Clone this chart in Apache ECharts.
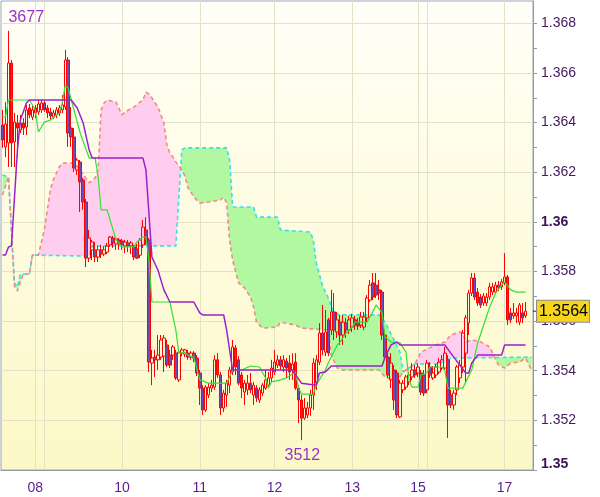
<!DOCTYPE html>
<html><head><meta charset="utf-8">
<script src="https://cdn.jsdelivr.net/npm/echarts@6/dist/echarts.min.js"></script>
<style>html,body{margin:0;padding:0;background:#fff}#c{width:600px;height:497px}</style>
</head><body><div id="c"></div>
<script>
// candles: [open, close, low, high]
const candles = [
[1.36390,1.36330,1.36298,1.36451],[1.36302,1.36394,1.36261,1.36483],[1.36318,1.36640,1.36221,1.36770],[1.36640,1.36318,1.36221,1.36652],
[1.36322,1.36402,1.36221,1.36439],[1.36398,1.36378,1.36261,1.36431],[1.36370,1.36398,1.36358,1.36431],[1.36398,1.36378,1.36350,1.36418],
[1.36382,1.36451,1.36350,1.36471],[1.36459,1.36431,1.36418,1.36475],[1.36422,1.36451,1.36410,1.36467],[1.36459,1.36439,1.36418,1.36471],
[1.36443,1.36475,1.36431,1.36491],[1.36451,1.36479,1.36439,1.36491],[1.36479,1.36451,1.36443,1.36487],[1.36459,1.36439,1.36418,1.36471],
[1.36443,1.36427,1.36410,1.36459],[1.36422,1.36439,1.36414,1.36451],[1.36431,1.36451,1.36418,1.36463],[1.36439,1.36459,1.36427,1.36471],
[1.36451,1.36471,1.36439,1.36511],[1.36463,1.36652,1.36451,1.36693],[1.36652,1.36358,1.36302,1.36664],[1.36378,1.36342,1.36302,1.36463],
[1.36342,1.36217,1.36201,1.36378],[1.36209,1.36249,1.36189,1.36257],[1.36241,1.36161,1.36040,1.36249],[1.36169,1.36080,1.36048,1.36177],
[1.36080,1.35854,1.35818,1.36092],[1.35854,1.35935,1.35838,1.35967],[1.35887,1.35919,1.35846,1.35927],[1.35887,1.35858,1.35838,1.35919],
[1.35858,1.35887,1.35838,1.35903],[1.35887,1.35870,1.35854,1.35907],[1.35870,1.35887,1.35862,1.35903],[1.35878,1.35903,1.35870,1.35915],
[1.35907,1.35939,1.35899,1.35943],[1.35935,1.35915,1.35895,1.35943],[1.35911,1.35931,1.35887,1.35939],[1.35927,1.35911,1.35887,1.35935],
[1.35923,1.35907,1.35887,1.35931],[1.35903,1.35919,1.35874,1.35927],[1.35915,1.35903,1.35878,1.35927],[1.35903,1.35915,1.35870,1.35923],
[1.35899,1.35858,1.35846,1.35907],[1.35891,1.35854,1.35850,1.35911],[1.35866,1.35927,1.35854,1.35935],[1.35907,1.35979,1.35895,1.36008],
[1.35967,1.35927,1.35907,1.36019],[1.35927,1.35435,1.35395,1.35935],[1.35431,1.35451,1.35342,1.35484],[1.35455,1.35444,1.35375,1.35484],
[1.35444,1.35463,1.35403,1.35544],[1.35455,1.35524,1.35444,1.35544],[1.35459,1.35532,1.35395,1.35544],[1.35504,1.35423,1.35415,1.35524],
[1.35463,1.35423,1.35411,1.35484],[1.35463,1.35496,1.35444,1.35504],[1.35471,1.35371,1.35363,1.35484],[1.35363,1.35475,1.35355,1.35484],
[1.35471,1.35484,1.35459,1.35492],[1.35467,1.35484,1.35455,1.35488],[1.35471,1.35455,1.35444,1.35484],[1.35455,1.35471,1.35444,1.35479],
[1.35471,1.35451,1.35435,1.35479],[1.35451,1.35391,1.35379,1.35463],[1.35391,1.35330,1.35262,1.35403],[1.35330,1.35242,1.35222,1.35342],
[1.35242,1.35334,1.35234,1.35342],[1.35302,1.35334,1.35290,1.35350],[1.35330,1.35342,1.35314,1.35363],[1.35334,1.35444,1.35323,1.35463],
[1.35444,1.35383,1.35371,1.35471],[1.35383,1.35250,1.35222,1.35395],[1.35250,1.35310,1.35234,1.35323],[1.35302,1.35350,1.35254,1.35363],
[1.35342,1.35403,1.35310,1.35415],[1.35395,1.35496,1.35383,1.35524],[1.35492,1.35415,1.35383,1.35504],[1.35444,1.35350,1.35342,1.35459],
[1.35383,1.35330,1.35290,1.35395],[1.35314,1.35350,1.35262,1.35363],[1.35323,1.35350,1.35302,1.35383],[1.35350,1.35323,1.35310,1.35391],
[1.35302,1.35342,1.35262,1.35355],[1.35330,1.35290,1.35274,1.35342],[1.35282,1.35323,1.35270,1.35334],[1.35310,1.35342,1.35298,1.35350],
[1.35330,1.35363,1.35323,1.35403],[1.35342,1.35371,1.35330,1.35395],[1.35371,1.35411,1.35355,1.35444],[1.35395,1.35435,1.35383,1.35484],
[1.35423,1.35444,1.35411,1.35463],[1.35444,1.35419,1.35403,1.35459],[1.35415,1.35444,1.35395,1.35463],[1.35439,1.35411,1.35371,1.35451],
[1.35431,1.35395,1.35363,1.35463],[1.35403,1.35427,1.35363,1.35471],[1.35435,1.35330,1.35323,1.35471],[1.35330,1.35282,1.35189,1.35342],
[1.35282,1.35209,1.35120,1.35302],[1.35209,1.35250,1.35202,1.35290],[1.35222,1.35250,1.35209,1.35274],[1.35250,1.35302,1.35218,1.35323],
[1.35302,1.35431,1.35242,1.35451],[1.35350,1.35444,1.35323,1.35463],[1.35435,1.35552,1.35423,1.35592],[1.35552,1.35484,1.35463,1.35665],
[1.35475,1.35556,1.35459,1.35645],[1.35605,1.35471,1.35459,1.35613],[1.35564,1.35637,1.35544,1.35726],[1.35637,1.35564,1.35524,1.35713],
[1.35556,1.35605,1.35532,1.35637],[1.35596,1.35544,1.35504,1.35625],[1.35544,1.35596,1.35504,1.35625],[1.35592,1.35564,1.35532,1.35613],
[1.35564,1.35605,1.35548,1.35621],[1.35576,1.35613,1.35556,1.35629],[1.35605,1.35584,1.35564,1.35621],[1.35596,1.35580,1.35564,1.35613],
[1.35584,1.35617,1.35572,1.35637],[1.35576,1.35617,1.35564,1.35637],[1.35613,1.35693,1.35596,1.35705],[1.35685,1.35745,1.35677,1.35766],
[1.35754,1.35697,1.35685,1.35794],[1.35745,1.35705,1.35693,1.35794],[1.35726,1.35713,1.35685,1.35766],[1.35717,1.35544,1.35524,1.35726],
[1.35544,1.35455,1.35444,1.35564],[1.35455,1.35383,1.35371,1.35475],[1.35363,1.35431,1.35330,1.35471],[1.35403,1.35282,1.35242,1.35423],
[1.35391,1.35222,1.35209,1.35403],[1.35214,1.35350,1.35209,1.35363],[1.35323,1.35350,1.35310,1.35363],[1.35334,1.35375,1.35323,1.35383],
[1.35355,1.35383,1.35342,1.35395],[1.35375,1.35403,1.35363,1.35431],[1.35403,1.35383,1.35371,1.35423],[1.35391,1.35415,1.35375,1.35431],
[1.35391,1.35314,1.35302,1.35403],[1.35383,1.35310,1.35298,1.35403],[1.35323,1.35431,1.35310,1.35444],[1.35415,1.35383,1.35371,1.35435],
[1.35371,1.35391,1.35363,1.35419],[1.35383,1.35415,1.35371,1.35427],[1.35395,1.35435,1.35387,1.35451],[1.35411,1.35444,1.35403,1.35463],
[1.35411,1.35471,1.35403,1.35496],[1.35444,1.35262,1.35129,1.35463],[1.35302,1.35262,1.35250,1.35323],[1.35262,1.35310,1.35242,1.35323],
[1.35323,1.35415,1.35302,1.35423],[1.35371,1.35423,1.35350,1.35444],[1.35415,1.35552,1.35391,1.35564],[1.35471,1.35613,1.35350,1.35625],
[1.35592,1.35713,1.35544,1.35726],[1.35713,1.35774,1.35701,1.35794],[1.35774,1.35697,1.35685,1.35794],[1.35717,1.35673,1.35661,1.35734],
[1.35697,1.35665,1.35653,1.35709],[1.35673,1.35701,1.35661,1.35713],[1.35673,1.35697,1.35661,1.35713],[1.35697,1.35738,1.35685,1.35754],
[1.35717,1.35738,1.35705,1.35754],[1.35717,1.35745,1.35709,1.35758],[1.35745,1.35734,1.35721,1.35762],[1.35738,1.35758,1.35726,1.35770],
[1.35754,1.35778,1.35745,1.35874],[1.35778,1.35605,1.35584,1.35786],[1.35633,1.35605,1.35592,1.35653],[1.35621,1.35633,1.35609,1.35673],
[1.35621,1.35633,1.35592,1.35653],[1.35596,1.35665,1.35584,1.35673],[1.35633,1.35613,1.35592,1.35673],[1.35621,1.35640,1.35613,1.35677]
];
// indicator lines: [slot index, price]
const tenkan = [[0,1.36422],[1,1.36422],[2,1.36491],[9,1.36491],[11,1.36451],[12,1.36362],[14,1.36402],[16,1.36410],[19,1.36439],[20,1.36479],[21,1.36551],[22,1.36539],[23,1.36491],[26,1.36358],[28,1.36290],[29,1.36257],[31,1.36257],[32,1.36181],[33,1.36048],[35,1.36048],[38,1.35927],[40,1.35899],[44,1.35899],[45,1.35919],[47,1.35939],[48,1.35939],[49,1.35846],[50,1.35677],[56,1.35677],[58,1.35564],[59,1.35471],[60,1.35471],[61,1.35475],[62,1.35463],[64,1.35455],[66,1.35363],[69,1.35350],[75,1.35350],[77,1.35403],[80,1.35403],[83,1.35419],[86,1.35415],[88,1.35371],[89,1.35330],[90,1.35355],[93,1.35363],[95,1.35371],[98,1.35395],[99,1.35334],[100,1.35306],[104,1.35306],[105,1.35342],[106,1.35363],[108,1.35403],[109,1.35431],[112,1.35504],[113,1.35516],[115,1.35552],[117,1.35576],[118,1.35596],[122,1.35596],[123,1.35617],[125,1.35665],[127,1.35633],[128,1.35536],[130,1.35516],[133,1.35512],[135,1.35475],[136,1.35363],[137,1.35334],[139,1.35334],[140,1.35383],[142,1.35391],[143,1.35415],[147,1.35415],[148,1.35403],[149,1.35330],[154,1.35330],[157,1.35403],[159,1.35512],[163,1.35657],[165,1.35713],[167,1.35745],[168,1.35758],[170,1.35726],[172,1.35717],[175,1.35717]];
const kijun = [[0,1.35866],[1,1.35866],[2,1.35899],[3,1.35903],[5,1.36290],[6,1.36410],[8,1.36479],[9,1.36491],[23,1.36491],[25,1.36459],[27,1.36398],[29,1.36290],[30,1.36257],[47,1.36257],[48,1.36209],[50,1.35858],[52,1.35806],[54,1.35726],[56,1.35677],[64,1.35677],[66,1.35633],[67,1.35625],[74,1.35625],[75,1.35564],[77,1.35403],[97,1.35403],[100,1.35350],[105,1.35342],[106,1.35391],[108,1.35395],[110,1.35419],[127,1.35419],[128,1.35455],[130,1.35504],[132,1.35516],[133,1.35504],[148,1.35504],[150,1.35471],[155,1.35391],[156,1.35391],[157,1.35431],[159,1.35463],[167,1.35463],[168,1.35504],[175,1.35504]];
const spanA = [[0,1.36189],[2,1.36181],[4,1.35754],[5,1.35738],[6,1.35790],[9,1.35790],[10,1.35866],[29,1.35862],[30,1.35903],[58,1.35903],[60,1.36290],[61,1.36298],[75,1.36298],[76,1.36249],[77,1.36060],[84,1.36060],[85,1.36019],[92,1.36019],[93,1.35967],[103,1.35959],[104,1.35927],[105,1.35834],[107,1.35745],[109,1.35693],[111,1.35633],[113,1.35625],[126,1.35625],[128,1.35596],[130,1.35548],[131,1.35524],[133,1.35475],[134,1.35395],[136,1.35411],[138,1.35427],[146,1.35427],[150,1.35451],[177,1.35455]];
const spanB = [[0,1.36108],[2,1.36181],[4,1.35741],[5,1.35721],[6,1.35758],[7,1.35790],[9,1.35790],[10,1.35866],[12,1.35866],[14,1.35967],[16,1.36128],[17,1.36169],[19,1.36221],[20,1.36237],[24,1.36237],[26,1.36209],[29,1.36157],[31,1.36177],[32,1.36209],[33,1.36451],[34,1.36479],[35,1.36491],[38,1.36483],[40,1.36431],[41,1.36443],[44,1.36463],[47,1.36491],[48,1.36523],[49,1.36515],[50,1.36499],[52,1.36463],[54,1.36398],[55,1.36310],[56,1.36277],[57,1.36261],[58,1.36241],[60,1.36209],[61,1.36185],[62,1.36140],[64,1.36100],[66,1.36076],[69,1.36080],[73,1.36088],[74,1.36100],[75,1.36076],[76,1.35927],[77,1.35846],[79,1.35754],[81,1.35734],[83,1.35697],[84,1.35657],[85,1.35596],[87,1.35572],[92,1.35576],[93,1.35596],[98,1.35584],[100,1.35572],[109,1.35564],[110,1.35463],[112,1.35411],[114,1.35403],[126,1.35403],[128,1.35375],[131,1.35363],[133,1.35375],[134,1.35395],[136,1.35411],[138,1.35427],[140,1.35475],[145,1.35504],[148,1.35516],[150,1.35544],[153,1.35556],[154,1.35552],[155,1.35516],[157,1.35524],[160,1.35516],[163,1.35496],[164,1.35471],[165,1.35444],[166,1.35423],[168,1.35411],[170,1.35431],[173,1.35435],[175,1.35451],[177,1.35403]];
const dayLabels = ['08','10','11','12','13','15','17'];
const dayLabelIdx = [11,40,66,91,117,139,168];
const weekLineIdx = [14,142];
const slotCount = 178;
const yMin = 1.35, yMax = 1.3689, yStep = 0.001;

const categories = Array.from({length: slotCount}, (_, i) => String(i));
const gridIdx = dayLabelIdx.concat(weekLineIdx);
const lastClose = candles[candles.length - 1][1];

function valAt(pts, x) {
  if (x <= pts[0][0]) return pts[0][1];
  for (let k = 1; k < pts.length; k++) {
    if (x <= pts[k][0]) {
      const x0 = pts[k-1][0], y0 = pts[k-1][1], x1 = pts[k][0], y1 = pts[k][1];
      return y0 + (y1 - y0) * (x - x0) / (x1 - x0);
    }
  }
  return pts[pts.length-1][1];
}
function cloudPolys() {
  const xs = Array.from(new Set(spanA.map(p => p[0]).concat(spanB.map(p => p[0])))).sort((a, b) => a - b);
  const polys = []; let cur = null;
  const add = (s, xa, xb) => {
    if (s === 0) { cur = null; return; }
    if (!cur || cur.s !== s) {
      cur = {s: s, a: [[xa, valAt(spanA, xa)]], b: [[xa, valAt(spanB, xa)]]};
      polys.push(cur);
    }
    cur.a.push([xb, valAt(spanA, xb)]);
    cur.b.push([xb, valAt(spanB, xb)]);
  };
  for (let k = 0; k < xs.length - 1; k++) {
    const x0 = xs[k], x1 = xs[k+1];
    const d0 = valAt(spanA, x0) - valAt(spanB, x0);
    const d1 = valAt(spanA, x1) - valAt(spanB, x1);
    if (d0 * d1 < 0) {
      const xc = x0 + (x1 - x0) * d0 / (d0 - d1);
      add(Math.sign(d0), x0, xc); add(Math.sign(d1), xc, x1);
    } else {
      add(d0 !== 0 ? Math.sign(d0) : Math.sign(d1), x0, x1);
    }
  }
  return polys;
}
function renderCloud(params, api) {
  const o = api.coord([0, 1.36]);
  const o1 = api.coord([1, 1.36]);
  const dx = o1[0] - o[0];
  const px = (p) => [o[0] + p[0] * dx, api.coord([0, p[1]])[1]];
  const children = cloudPolys().map(pl => ({
    type: 'polygon',
    shape: { points: pl.a.concat(pl.b.slice().reverse()).map(px) },
    style: { fill: pl.s > 0 ? '#b1f8a1' : '#ffcdee', stroke: null }
  }));
  return { type: 'group', children: children };
}

const FONT = 'Liberation Sans, Arial, sans-serif';
const GRID = { left: 1, right: 67, top: 1, bottom: 27 };
const chart = echarts.init(document.getElementById('c'), null, {renderer: 'canvas'});
chart.setOption({
  animation: false,
  backgroundColor: '#ffffff',
  textStyle: { fontFamily: FONT },
  grid: {
    left: GRID.left, right: GRID.right, top: GRID.top, bottom: GRID.bottom, show: true,
    borderColor: '#9aa7b0', borderWidth: 1,
    backgroundColor: { type: 'linear', x: 0, y: 0, x2: 0, y2: 1,
      colorStops: [{offset: 0, color: '#fffff8'}, {offset: 1, color: '#fcf8c6'}] }
  },
  xAxis: {
    type: 'category', data: categories, boundaryGap: true,
    axisLine: { lineStyle: { color: '#8e9ca6' } },
    axisTick: { alignWithLabel: true, length: 4, interval: (i) => dayLabelIdx.includes(i), lineStyle: { color: '#8e9ca6' } },
    axisLabel: { interval: (i) => dayLabelIdx.includes(i), margin: 11,
      formatter: (v, i) => { const k = dayLabelIdx.indexOf(i); return k >= 0 ? dayLabels[k] : ''; },
      color: '#5e1d8f', fontSize: 14, fontFamily: FONT },
    splitLine: { show: true, alignWithLabel: true, interval: (i) => gridIdx.includes(i), lineStyle: { color: '#e2e2c6' } }
  },
  yAxis: {
    type: 'value', position: 'right', min: yMin, max: yMax, interval: yStep,
    axisLine: { show: true, lineStyle: { color: '#8e9ca6' } },
    axisTick: { show: true, length: 4, lineStyle: { color: '#8e9ca6' } },
    splitLine: { show: true, lineStyle: { color: ['#e2e2c6', 'rgba(0,0,0,0)'] } },
    axisLabel: {
      showMaxLabel: false, margin: 8, color: '#43185f', fontSize: 14, fontFamily: FONT,
      formatter: (v) => {
        const k = Math.round((v - yMin) / yStep);
        if (k % 2 !== 0) return '';
        if (k % 10 === 0) return (k === 0 ? '{bmin|' : '{b|') + v.toFixed(2) + '}';
        return v.toFixed(3);
      },
      rich: {
        b: { fontWeight: 'bold', fontSize: 14, color: '#3a1257', fontFamily: FONT },
        bmin: { fontWeight: 'bold', fontSize: 14, color: '#3a1257', fontFamily: FONT, padding: [0, 0, 12, 0] }
      }
    }
  },
  series: [
    { type: 'custom', name: 'cloud', renderItem: renderCloud, data: [[0, 1.36]], z: 1, silent: true },
    { type: 'line', name: 'spanA', data: spanA, showSymbol: false, z: 2, silent: true,
      lineStyle: { color: '#33dff0', width: 1.6, type: [4, 3] } },
    { type: 'line', name: 'spanB', data: spanB, showSymbol: false, z: 2, silent: true,
      lineStyle: { color: '#f08a84', width: 1.6, type: [4, 3] } },
    { type: 'candlestick', name: 'price', data: candles, z: 3, barWidth: 3, clip: false,
      itemStyle: { color: 'rgba(255,255,255,0)', color0: '#6b4fb8', borderColor: '#ff0000', borderColor0: '#ff0000', borderWidth: 1 },
      markPoint: {
        symbol: 'circle', symbolSize: 0, silent: true,
        data: [
          { type: 'max', valueDim: 'highest', label: { show: true, position: 'inside', align: 'left', offset: [0, -13] } },
          { type: 'min', valueDim: 'lowest', label: { show: true, position: 'inside', align: 'center', offset: [1, 15] } }
        ],
        label: { color: '#9a32c8', fontSize: 16, fontFamily: FONT,
          formatter: (p) => String(Math.round(p.value * 1e4) % 10000) }
      }
    },
    { type: 'line', name: 'tenkan', data: tenkan, showSymbol: false, z: 4, silent: true,
      lineStyle: { color: '#33e033', width: 1.2 } },
    { type: 'line', name: 'kijun', data: kijun, showSymbol: false, z: 4, silent: true,
      lineStyle: { color: '#9a22cc', width: 1.5 } }
  ]
});

// current price tag on the price axis, placed through the axis scale
const yPix = chart.convertToPixel({ yAxisIndex: 0 }, lastClose);
const axisX = chart.getWidth() - GRID.right;
chart.setOption({
  graphic: [
    { type: 'line', z: 100, shape: { x1: axisX, y1: yPix, x2: axisX + 6, y2: yPix },
      style: { stroke: '#3a1257', lineWidth: 1 } },
    { type: 'text', z: 101, x: axisX + 4, y: yPix,
      style: { text: lastClose.toFixed(4), fill: '#000000', font: '16px Liberation Sans, Arial, sans-serif',
        align: 'left', verticalAlign: 'middle', backgroundColor: '#f7d51c',
        borderColor: '#8c8c8c', borderWidth: 1, padding: [3, 1, 2, 2] } }
  ]
});
</script>
</body></html>
